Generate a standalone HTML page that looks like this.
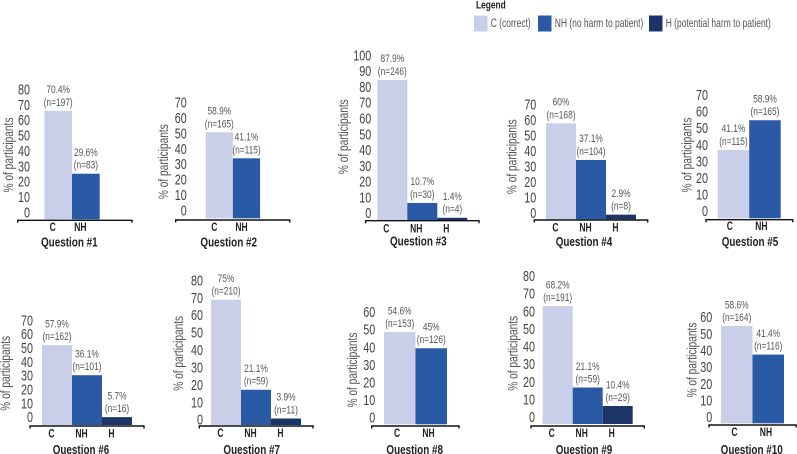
<!DOCTYPE html>
<html lang="en">
<head>
<meta charset="utf-8">
<title>Question results by participants</title>
<style>
html,body{margin:0;padding:0;background:#fff;}
svg{display:block;font-family:"Liberation Sans",Arial,sans-serif;}
</style>
</head>
<body>
<svg id="chart" xmlns="http://www.w3.org/2000/svg" width="797" height="454" viewBox="0 0 797 454">
  <g>
    <text transform="translate(476,8.5) scale(.76,1)" font-size="11" font-weight="bold" fill="#222">Legend</text>
    <rect x="474" y="15.5" width="13.5" height="16" fill="#c9cfe8"/>
    <text transform="translate(490.7,27.2) scale(.72,1)" font-size="11.8" fill="#555">C (correct)</text>
    <rect x="538" y="15.5" width="13.5" height="16" fill="#2a59a6"/>
    <text transform="translate(554.7,27.2) scale(.72,1)" font-size="11.8" fill="#555">NH (no harm to patient)</text>
    <rect x="649" y="15.5" width="13.5" height="16" fill="#1b3568"/>
    <text transform="translate(665.7,27.2) scale(.72,1)" font-size="11.8" fill="#555">H (potential harm to patient)</text>
  </g>
</svg>
<script>
// ---- data ----
const questions = ['Question #1','Question #2','Question #3','Question #4','Question #5','Question #6','Question #7','Question #8','Question #9','Question #10'];
const categories = ['C','NH','H'];
const valuesC  = [70.4,58.9,87.9,60,41.1,57.9,75,54.6,68.2,58.6];
const valuesNH = [29.6,41.1,10.7,37.1,58.9,36.1,21.1,45,21.1,41.4];
const valuesH  = [null,null,1.4,2.9,null,5.7,3.9,null,10.4,null];
const countsC  = [197,165,246,168,115,162,210,153,191,164];
const countsNH = [83,115,30,104,165,101,59,126,59,116];
const countsH  = [null,null,4,8,null,16,11,null,29,null];
const tickMaxima = [80,70,100,70,70,70,80,60,80,60];
const tickStep = 10;
const yAxisTitle = '% of participants';

// ---- per-panel layout (geometry only) ----
const panelLayouts = [
  {x:44.3,w:27.7,base:219.3,ppu:1.54,axL:17.7,axR:132,axY:220.3,tickR:30,tick0:212,tickTop:89,titleX:8,titleY:155,catDx:-5.5,catY:226.7,qX:69.3,qY:241.7},
  {x:205.7,w:27.2,base:218.3,ppu:1.46,axL:175.7,axR:289.7,axY:220,tickR:186.7,tick0:210,tickTop:102.3,titleX:163,titleY:161.7,catDx:-5,catY:226.7,qX:228.7,qY:241.7},
  {x:377.3,w:30,base:220,ppu:1.593,axL:365.7,axR:479,axY:220.7,tickR:371.3,tick0:212.7,tickTop:55,titleX:343.3,titleY:136.7,catDx:-6,catY:228.3,qX:418.3,qY:240.7},
  {x:546,w:30,base:219.3,ppu:1.6,axL:534.3,axR:647.7,axY:220,tickR:536.3,tick0:212.7,tickTop:104.3,titleX:511.7,titleY:156.7,catDx:-5.5,catY:227.3,qX:584,qY:241.3},
  {x:717.7,w:31.5,base:218.3,ppu:1.665,axL:706,axR:792.7,axY:219.7,tickR:708,tick0:210.7,tickTop:94.7,titleX:686.7,titleY:155,catDx:-3.6,catY:225.7,qX:750,qY:241},
  {x:42,w:30,base:425,ppu:1.38,axL:30,axR:144,axY:426,tickR:33,tick0:416.7,tickTop:320,titleX:5,titleY:373.3,catDx:-5.5,catY:433.3,qX:81,qY:449.3},
  {x:211,w:30,base:425,ppu:1.67,axL:199.3,axR:313,axY:426,tickR:203,tick0:419.3,tickTop:280,titleX:178.3,titleY:353.3,catDx:-5.5,catY:433,qX:251.7,qY:449.3},
  {x:384,w:31.5,base:424.3,ppu:1.69,axL:371.7,axR:459,axY:426,tickR:375.3,tick0:417.3,tickTop:311.7,titleX:352.3,titleY:370,catDx:-2.7,catY:433,qX:414.7,qY:449.3},
  {x:542.7,w:30,base:424,ppu:1.73,axL:531,axR:644.3,axY:426,tickR:535,tick0:416.7,tickTop:275.7,titleX:512.7,titleY:353.3,catDx:-6,catY:433,qX:584,qY:449.3},
  {x:721,w:31.5,base:423.3,ppu:1.66,axL:709,axR:796,axY:425,tickR:712.3,tick0:416.7,tickTop:316.7,titleX:691.7,titleY:360,catDx:-2.3,catY:432,qX:751.7,qY:449.3}
];
const seriesFill = ['#c9cfe8','#2a59a6','#1b3568'];
const seriesValues = [valuesC,valuesNH,valuesH];
const seriesCounts = [countsC,countsNH,countsH];

// ---- axis functions ----
function barY(layout,v){ return layout.base - v*layout.ppu; }
function tickY(layout,v,max){ return layout.tick0 - (v/max)*(layout.tick0-layout.tickTop); }
function barX(layout,i){ return layout.x + i*layout.w; }

// ---- drawing ----
const NS = 'http://www.w3.org/2000/svg';
const svg = document.getElementById('chart');

function makeText(parent,str,cx,cy,size,sx,anchor,fill,bold,rot){
  const t = document.createElementNS(NS,'text');
  t.textContent = str;
  t.setAttribute('font-size',size);
  t.setAttribute('fill',fill);
  t.setAttribute('text-anchor',anchor);
  if(bold) t.setAttribute('font-weight','bold');
  const off = 0.36*size;
  if(rot){
    t.setAttribute('transform','translate('+(cx+off)+','+cy+') rotate(-90) scale('+sx+',1)');
  }else{
    t.setAttribute('transform','translate('+cx+','+(cy+off)+') scale('+sx+',1)');
  }
  parent.appendChild(t);
  return t;
}

questions.forEach(function(q,p){
  const L = panelLayouts[p];
  const g = document.createElementNS(NS,'g');
  
  
  svg.appendChild(g);

  // y-axis tick labels
  for(let v=0;v<=tickMaxima[p];v+=tickStep){
    const tk = makeText(g,String(v),L.tickR,tickY(L,v,tickMaxima[p]),15,.72,'end','#444',false,false);
    
    
  }
  // y-axis title
  const yt = makeText(g,yAxisTitle,L.titleX,L.titleY,13.5,.75,'middle','#555',false,true);
  
  

  // bars + value labels + category labels
  seriesValues.forEach(function(vals,s){
    const v = vals[p];
    if(v===null) return;
    const x = barX(L,s);
    const top = barY(L,v);
    const r = document.createElementNS(NS,'rect');
    r.setAttribute('x',x);
    r.setAttribute('y',top);
    r.setAttribute('width',L.w);
    r.setAttribute('height',L.base-top);
    r.setAttribute('fill',seriesFill[s]);
    
    
    g.appendChild(r);

    const mid = x + L.w/2;
    const pct = makeText(g,v+'%',mid,top-21.7,11,.76,'middle','#555',false,false);
    
    
    const cnt = makeText(g,'(n='+seriesCounts[s][p]+')',mid,top-9,11,.76,'middle','#555',false,false);
    
    
    const cat = makeText(g,categories[s],mid+L.catDx,L.catY,11.5,.74,'middle','#222',true,false);
    
    
  });

  // x axis with end caps
  const ax = document.createElementNS(NS,'path');
  ax.setAttribute('d','M'+L.axL+' '+(L.axY+2.5)+'V'+L.axY+'H'+L.axR+'V'+(L.axY+2.5));
  ax.setAttribute('fill','none');
  ax.setAttribute('stroke','#111');
  ax.setAttribute('stroke-width','1.4');
  
  
  g.appendChild(ax);

  // question title
  const qt = makeText(g,q,L.qX,L.qY,13.2,.75,'middle','#222',true,false);
  
  
});
</script>
</body>
</html>
